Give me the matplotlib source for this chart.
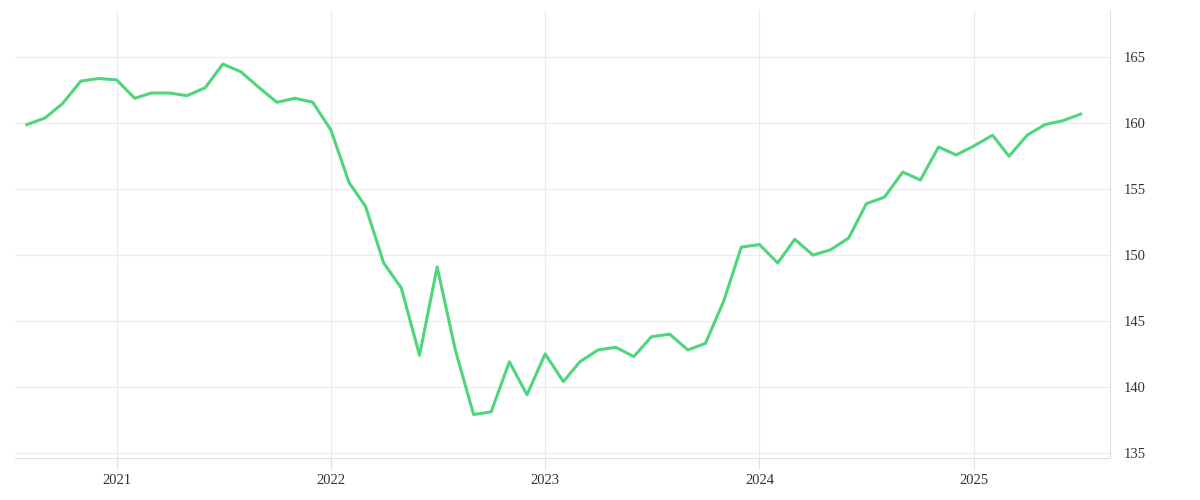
import matplotlib
matplotlib.use("Agg")
import matplotlib.pyplot as plt
import matplotlib.dates as mdates
import pandas as pd

dates = pd.date_range("2020-08-01", periods=60, freq="MS")
values = [159.9, 160.4, 161.5, 163.2, 163.4, 163.3, 161.9, 162.3, 162.3, 162.1,
          162.7, 164.5, 163.9, 162.7, 161.6, 161.9, 161.6,
          159.5, 155.5, 153.7, 149.4, 147.5, 142.4, 149.1, 142.8, 137.9, 138.1, 141.9, 139.4,
          142.5, 140.4, 141.9, 142.8, 143.0, 142.3, 143.8, 144.0, 142.8, 143.3, 146.5, 150.6,
          150.8, 149.4, 151.2, 150.0, 150.4, 151.3, 153.9, 154.4, 156.3, 155.7, 158.2, 157.6,
          158.3, 159.1, 157.5, 159.1, 159.9, 160.2, 160.7]
yticks = [135, 140, 145, 150, 155, 160, 165]

plt.rcParams['font.family'] = ['Liberation Serif', 'DejaVu Serif']
fig = plt.figure(figsize=(12, 5), dpi=100)
ax = fig.add_axes([15/1200, 42/500, 1095/1200, 448/500])
ax.plot(dates, values, color="#4fd67c", lw=2.2)
ax.set_xlim(pd.Timestamp("2020-07-12"), pd.Timestamp("2025-08-20"))
ax.set_ylim(134.6, 168.6)
ax.set_yticks(yticks)
ax.yaxis.tick_right()
ax.xaxis.set_major_locator(mdates.YearLocator())
ax.xaxis.set_major_formatter(mdates.DateFormatter("%Y"))
ax.grid(True, color="#ececec", lw=0.8)
for s in ["top", "left"]:
    ax.spines[s].set_visible(False)
for s in ["right", "bottom"]:
    ax.spines[s].set_color("#e0e0e0")
ax.tick_params(axis="both", length=8, color="#e0e0e0", labelsize=10.5, labelcolor="#333333")
ax.tick_params(axis="y", length=0, pad=10)
fig.savefig("out.png")
